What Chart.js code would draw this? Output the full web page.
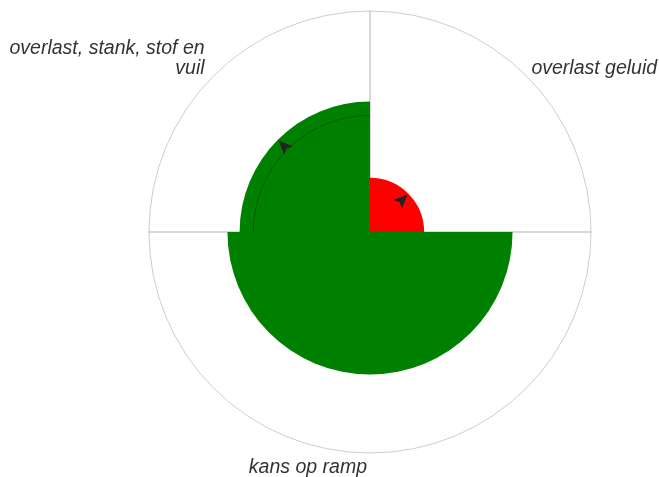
<!DOCTYPE html>
<html>
<head>
<meta charset="utf-8">
<script src="https://cdn.jsdelivr.net/npm/chart.js@4.4.1/dist/chart.umd.min.js"></script>
<style>
  html,body{margin:0;padding:0;background:#fff;}
</style>
</head>
<body>
<canvas id="chart" width="659" height="477"></canvas>
<script>
// ----- data -----
const categories = ["overlast geluid", "kans op ramp", ["overlast, stank, stof en", "vuil"]];
const scores = [24.5, 64.5, 59];
const previous = [null, null, 52.8];   // thin arc = earlier value
const rising = [true, false, true];     // arrowhead pointing outwards
const sliceAngles = [90, 180, 90];
const sliceColors = ["#ff0000", "#008000", "#008000"];
const scaleMax = 100;

// ----- look -----
const LABEL_FONT = "italic 19.5px 'Liberation Sans', Arial, sans-serif";
const LABEL_COLOR = "#333";
const LINE_H = 20;

// angle lines under the slices, at the slice borders
const angleLinesPlugin = {
  id: "angleLines",
  beforeDatasetsDraw(chart){
    const r = chart.scales.r, ctx = chart.ctx;
    const R = r.getDistanceFromCenterForValue(scaleMax);
    ctx.save();
    ctx.strokeStyle = "rgba(0,0,0,0.3)";
    ctx.lineWidth = 1;
    chart.getDatasetMeta(0).data.forEach(arc=>{
      const a = arc.startAngle;
      ctx.beginPath();
      ctx.moveTo(r.xCenter, r.yCenter);
      ctx.lineTo(r.xCenter + Math.cos(a)*R, r.yCenter + Math.sin(a)*R);
      ctx.stroke();
    });
    ctx.restore();
  }
};

// previous-value arcs, arrows and slice labels
const marksPlugin = {
  id: "marks",
  afterDatasetsDraw(chart){
    const r = chart.scales.r, ctx = chart.ctx;
    const cx = r.xCenter, cy = r.yCenter;
    const R = r.getDistanceFromCenterForValue(scaleMax);
    const arcs = chart.getDatasetMeta(0).data;
    ctx.save();
    arcs.forEach((arc, i)=>{
      const mid = (arc.startAngle + arc.endAngle)/2;
      const ux = Math.cos(mid), uy = Math.sin(mid);

      if(previous[i] != null){
        const pr = r.getDistanceFromCenterForValue(previous[i]);
        ctx.beginPath();
        ctx.arc(cx, cy, pr, arc.startAngle, arc.endAngle);
        ctx.strokeStyle = "rgba(0,0,0,0.3)";
        ctx.lineWidth = 1;
        ctx.stroke();
      }

      if(rising[i]){
        const rt = r.getDistanceFromCenterForValue(scores[i]) - 1;
        const tx = cx + ux*rt, ty = cy + uy*rt;
        const nx = -uy, ny = ux;
        const bx = tx - ux*14, by = ty - uy*14;
        const kx = tx - ux*11, ky = ty - uy*11;
        ctx.beginPath();
        ctx.moveTo(tx, ty);
        ctx.lineTo(bx + nx*6, by + ny*6);
        ctx.lineTo(kx, ky);
        ctx.lineTo(bx - nx*6, by - ny*6);
        ctx.closePath();
        ctx.fillStyle = "#222";
        ctx.fill();
      }

      // label
      const lines = Array.isArray(categories[i]) ? categories[i] : [categories[i]];
      let deg = ((mid + Math.PI/2) * 180/Math.PI) % 360;
      if(deg < 0) deg += 360;
      const px = cx + ux*(R+3), py = cy + uy*(R+3);
      const left = deg > 0.5 && deg < 179.5;
      const upper = deg < 90 || deg > 270;
      ctx.font = LABEL_FONT;
      ctx.fillStyle = LABEL_COLOR;
      ctx.textAlign = left ? "left" : "right";
      ctx.textBaseline = "alphabetic";
      const x = left ? px + 3 : px - (upper ? 7 : 3);
      lines.forEach((t, k)=>{
        const y = upper ? py - (lines.length-1-k)*LINE_H : py + 16.8 + k*LINE_H;
        ctx.fillText(t, x, y);
      });
    });
    ctx.restore();
  }
};

new Chart(document.getElementById("chart"), {
  type: "polarArea",
  data: {
    labels: categories,
    datasets: [{
      data: scores,
      backgroundColor: sliceColors,
      borderWidth: 0,
      angle: ctx => sliceAngles[ctx.dataIndex]
    }]
  },
  options: {
    responsive: false,
    animation: false,
    layout: { padding: { left: 149, right: 68, top: 11, bottom: 24 } },
    plugins: { legend: { display: false }, tooltip: { enabled: false } },
    scales: {
      r: {
        min: 0, max: scaleMax,
        ticks: { display: false, stepSize: scaleMax },
        grid: { color: "rgba(0,0,0,0.2)", lineWidth: 1 },
        angleLines: { display: false },
        pointLabels: { display: false }
      }
    }
  },
  plugins: [angleLinesPlugin, marksPlugin]
});
</script>
</body>
</html>
